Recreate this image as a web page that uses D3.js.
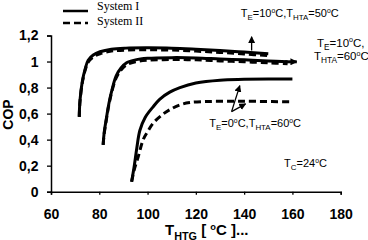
<!DOCTYPE html>
<html><head><meta charset="utf-8">
<script src="https://cdn.jsdelivr.net/npm/d3@7"></script>
<style>
html,body{margin:0;padding:0;background:#fff;}
svg{display:block;}
</style></head>
<body>
<svg id="c" width="368" height="240"></svg>
<script>
// ---- data ----
const xTicks = [60, 80, 100, 120, 140, 160, 180];
const yTicks = [0, 0.2, 0.4, 0.6, 0.8, 1, 1.2];
const seriesNames = ["System I", "System II"];
// TE=10, THTA=50
const c1SysI  = [[71.7,0.575],[72,0.70],[73,0.85],[74.1,0.94],[75.4,1.01],[77.5,1.05],[80.3,1.075],[85,1.095],[91,1.103],[100,1.105],[110,1.103],[120,1.095],[130,1.085],[140,1.073],[150,1.06]];
const c1SysII = [[71.7,0.575],[72,0.69],[73,0.84],[74.1,0.93],[75.4,0.995],[77.5,1.035],[80.3,1.06],[85,1.08],[91,1.088],[100,1.09],[110,1.088],[120,1.08],[130,1.07],[140,1.058],[150,1.045]];
// TE=10, THTA=60
const c2SysI  = [[81.6,0.36],[82,0.45],[83,0.57],[84,0.68],[85.5,0.80],[87,0.89],[89,0.95],[91.3,0.99],[95,1.013],[100,1.025],[110,1.03],[120,1.028],[130,1.02],[140,1.013],[150,1.005],[158,0.998]];
const c2SysII = [[81.6,0.36],[82,0.44],[83,0.56],[84,0.67],[85.5,0.79],[87,0.875],[89,0.935],[91.3,0.975],[95,0.998],[100,1.01],[110,1.015],[120,1.013],[130,1.005],[140,0.998],[150,0.99],[158,0.983]];
// TE=0, THTA=60
const c3SysI  = [[93.4,0.077],[94.5,0.2],[95.5,0.33],[96.8,0.47],[99,0.57],[102.2,0.65],[105,0.71],[109.2,0.765],[113.4,0.80],[120,0.835],[130,0.857],[140,0.863],[150,0.866],[160,0.866]];
const c3SysII = [[93.4,0.077],[94.5,0.17],[96,0.26],[98.2,0.40],[100,0.46],[102.3,0.526],[106,0.59],[109.2,0.63],[113.4,0.667],[117.5,0.685],[125,0.693],[135,0.695],[145,0.694],[160,0.69]];

// annotations in data units
const arrows = [
  {from:[143.1,1.085], to:[143.1,1.19]},
  {from:[157,0.998], to:[161.8,0.998]},
  {from:[134.8,0.615], to:[138.2,0.815]},
  {from:[134.8,0.615], to:[140.6,0.675]}
];

// ---- chart ----
const svg = d3.select("#c");
const x = d3.scaleLinear().domain([60,180]).range([51,340.7]);
const y = d3.scaleLinear().domain([0,1.2]).range([191.7,35.5]);
const fmt = d => String(d).replace(".", ",");

const gy = svg.append("g").attr("transform","translate(51,0)")
  .call(d3.axisLeft(y).tickValues(yTicks).tickFormat(fmt).tickSize(4).tickPadding(8.5));
const gx = svg.append("g").attr("transform","translate(0,191.7)")
  .call(d3.axisBottom(x).tickValues(xTicks).tickFormat(d=>d).tickSize(3).tickPadding(14));
[gx,gy].forEach(g=>{
  g.select(".domain").attr("stroke","#000").attr("stroke-width",1.5);
  g.selectAll(".tick line").attr("stroke","#000").attr("stroke-width",1.3);
  g.selectAll(".tick text").attr("fill","#000")
    .style("font-family","'Liberation Sans',Arial,sans-serif")
    .style("font-weight","bold").style("font-size","14px");
});

const line = d3.line().x(d=>x(d[0])).y(d=>y(d[1])).curve(d3.curveCatmullRom.alpha(0.5));
const solid = [c1SysI, c2SysI, c3SysI];
const dashed = [c1SysII, c2SysII, c3SysII];
dashed.forEach(s=>svg.append("path").attr("d",line(s)).attr("fill","none")
  .attr("stroke","#000").attr("stroke-width",3).attr("stroke-dasharray","7,4"));
solid.forEach(s=>svg.append("path").attr("d",line(s)).attr("fill","none")
  .attr("stroke","#000").attr("stroke-width",3));

// arrow marker
svg.append("defs").append("marker").attr("id","ah")
  .attr("viewBox","0 0 10 10").attr("refX",9).attr("refY",5)
  .attr("markerWidth",7).attr("markerHeight",7).attr("markerUnits","userSpaceOnUse")
  .attr("orient","auto")
  .append("path").attr("d","M0,0L10,5L0,10Z").attr("fill","#000");
arrows.forEach((a,i)=>svg.append("line")
  .attr("x1",x(a.from[0])).attr("y1",y(a.from[1]))
  .attr("x2",x(a.to[0])).attr("y2",y(a.to[1]))
  .attr("stroke","#000").attr("stroke-width",i===1?3:1.3).attr("marker-end","url(#ah)"));

function label(xp, yp, items, size, weight, anchor){
  const t = svg.append("text").attr("x",xp).attr("y",yp)
    .style("font-family","'Liberation Sans',Arial,sans-serif")
    .style("font-size",size+"px").style("font-weight",weight||"normal")
    .attr("text-anchor",anchor||"start").attr("fill","#000");
  let cur = 0;
  items.forEach(([txt,mode])=>{
    let target = mode==="sub"? size*0.3 : mode==="sup"? -size*0.35 : 0;
    const s = t.append("tspan").text(txt).attr("dy", target-cur);
    cur = target;
    if(mode==="sub") s.style("font-size",(size*0.72)+"px");
    if(mode==="sup") s.style("font-size",(size*0.62)+"px");
  });
  return t;
}

label(x(158.9), 17, [["T"],["E","sub"],["=10"],["o","sup"],["C,T"],["HTA","sub"],["=50"],["o","sup"],["C"]], 11, "normal","middle");
label(317, 46.5, [["T"],["E","sub"],["=10"],["o","sup"],["C,"]], 11.5, "normal","start");
label(314, 60, [["T"],["HTA","sub"],["=60"],["o","sup"],["C"]], 11.5, "normal","start");
label(209.3, 126.5, [["T"],["E","sub"],["=0"],["o","sup"],["C,T"],["HTA","sub"],["=60"],["o","sup"],["C"]], 11, "normal","start");
label(284, 167, [["T"],["C","sub"],["=24"],["o","sup"],["C"]], 11, "normal","start");

// axis titles
svg.append("text").attr("transform","translate(13,114.5) rotate(-90)")
  .attr("text-anchor","middle").style("font-family","'Liberation Sans',Arial,sans-serif")
  .style("font-weight","bold").style("font-size","14px").text("COP");
label(165, 235, [["T"],["HTG","sub"],[" [ "],["o","sup"],["C ]..."]], 15, "bold","start");

// legend
const legY = [11, 23];
const legTextY = [9.5, 24.5];
seriesNames.forEach((n,i)=>{
  svg.append("line").attr("x1",63).attr("x2",88).attr("y1",legY[i]).attr("y2",legY[i])
    .attr("stroke","#000").attr("stroke-width",2.5).attr("stroke-dasharray",i?"7,4":null);
  svg.append("text").attr("x",97).attr("y",legTextY[i]).text(n)
    .style("font-family","'Liberation Serif','Times New Roman',serif").style("font-size","12px");
});
</script>
</body></html>
